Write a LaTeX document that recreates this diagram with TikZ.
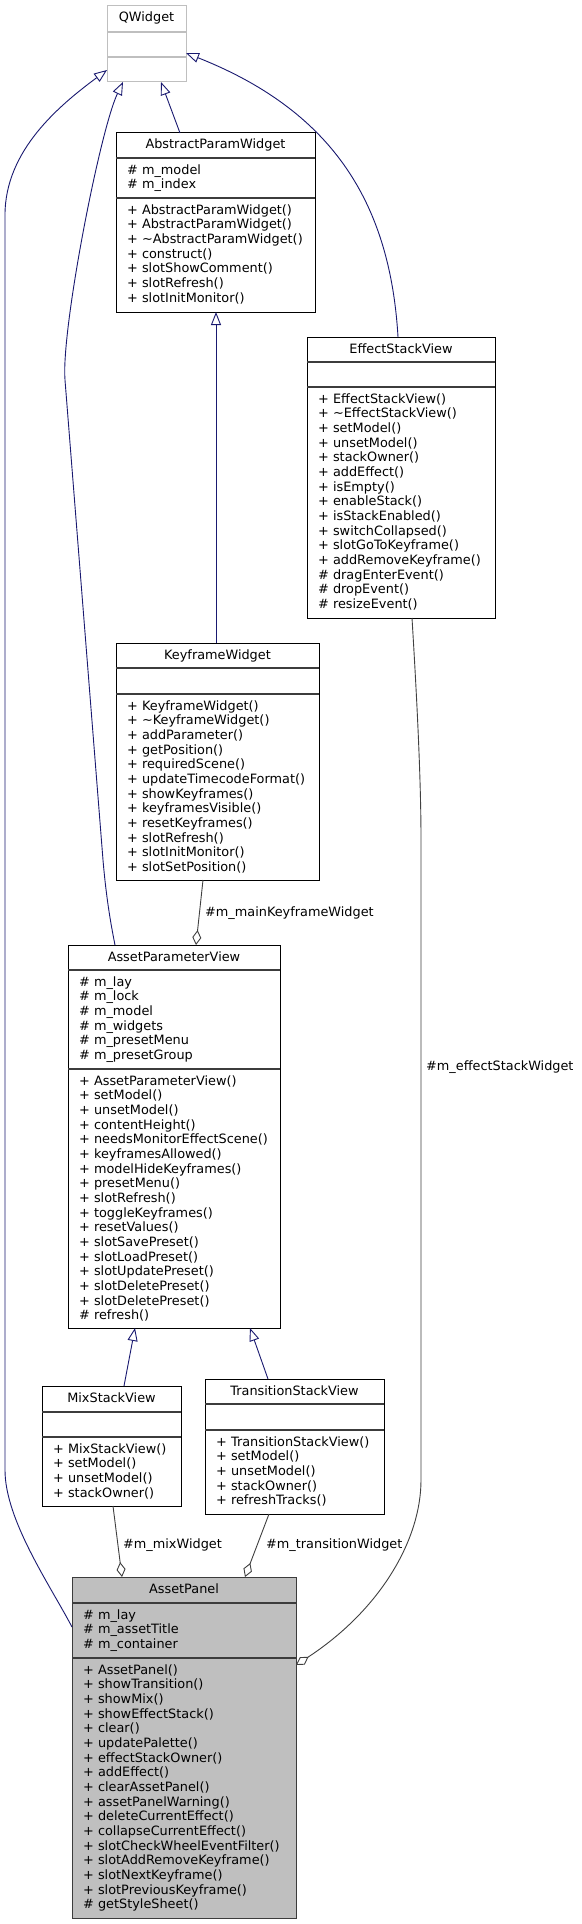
\documentclass[tikz,border=0pt]{standalone}
\usepackage{fontspec}
\setmainfont{DejaVu Sans}
\usetikzlibrary{arrows.meta,calc}
\definecolor{edgeblue}{RGB}{25,25,112}
\definecolor{edgegray}{RGB}{64,64,64}
\definecolor{nodegray}{RGB}{191,191,191}
\definecolor{divgray}{RGB}{60,60,60}
\newcommand\umlfont{\fontsize{12.85pt}{14.67pt}\selectfont}
\newcommand\mlines[1]{\begin{tabular}[t]{@{}l@{}}#1\end{tabular}}
\tikzset{
  cls/.style={draw=black, line width=1pt, fill=white, inner sep=0pt, outer sep=0pt, anchor=north west},
  clsgray/.style={cls, draw=nodegray},
  clscur/.style={cls, fill=nodegray, draw=divgray},
  div/.style={draw=divgray, line width=1.2pt},
  divlight/.style={draw=nodegray, line width=1.2pt},
  ttl/.style={anchor=base, inner sep=0pt, font=\umlfont},
  mem/.style={anchor=base west, inner sep=0pt, font=\umlfont},
  lbl/.style={anchor=base west, inner sep=0pt, font=\umlfont},
  inh/.style={draw=edgeblue, line width=0.9pt, -{Triangle[open, length=13pt, width=10pt, fill=white]}},
  agg/.style={draw=edgegray, line width=0.9pt, {Diamond[open, length=15pt, width=9pt, fill=white]}-},
}
\begin{document}
\begin{tikzpicture}[x=1pt,y=-1pt]
\useasboundingbox (0,0) rectangle (581,1924);
\fill[white] (0,0) rectangle (581,1924);

% ---------- QWidget ----------
\node[clsgray, minimum width=79pt, minimum height=76pt] (qw) at (107,6) {};
\draw[divlight] (107,32) -- (186,32);
\draw[divlight] (107,57) -- (186,57);
\node[ttl] (qw-t) at (146.5,22) {QWidget};

% ---------- AbstractParamWidget ----------
\node[cls, minimum width=199pt, minimum height=179pt] (apw) at (116,133) {};
\draw[div] (116,158) -- (315,158);
\draw[div] (116,198) -- (315,198);
\node[ttl] (apw-t) at (215.5,149) {AbstractParamWidget};
\node[mem] (apw-a) at (127,174) {\mlines{\# m\_model\\\# m\_index}};
\node[mem] (apw-m) at (127,214) {\mlines{+ AbstractParamWidget()\\+ AbstractParamWidget()\\+ \textasciitilde AbstractParamWidget()\\+ construct()\\+ slotShowComment()\\+ slotRefresh()\\+ slotInitMonitor()}};

% ---------- EffectStackView ----------
\node[cls, minimum width=188pt, minimum height=281pt] (esv) at (307,337) {};
\draw[div] (307,362) -- (495,362);
\draw[div] (307,387) -- (495,387);
\node[ttl] (esv-t) at (401,353) {EffectStackView};
\node[mem] (esv-m) at (318,403) {\mlines{+ EffectStackView()\\+ \textasciitilde EffectStackView()\\+ setModel()\\+ unsetModel()\\+ stackOwner()\\+ addEffect()\\+ isEmpty()\\+ enableStack()\\+ isStackEnabled()\\+ switchCollapsed()\\+ slotGoToKeyframe()\\+ addRemoveKeyframe()\\\# dragEnterEvent()\\\# dropEvent()\\\# resizeEvent()}};

% ---------- KeyframeWidget ----------
\node[cls, minimum width=203pt, minimum height=237pt] (kw) at (116,643) {};
\draw[div] (116,668) -- (319,668);
\draw[div] (116,694) -- (319,694);
\node[ttl] (kw-t) at (217.5,659) {KeyframeWidget};
\node[mem] (kw-m) at (127,710) {\mlines{+ KeyframeWidget()\\+ \textasciitilde KeyframeWidget()\\+ addParameter()\\+ getPosition()\\+ requiredScene()\\+ updateTimecodeFormat()\\+ showKeyframes()\\+ keyframesVisible()\\+ resetKeyframes()\\+ slotRefresh()\\+ slotInitMonitor()\\+ slotSetPosition()}};

% ---------- AssetParameterView ----------
\node[cls, minimum width=212pt, minimum height=383pt] (apv) at (68,945) {};
\draw[div] (68,970) -- (280,970);
\draw[div] (68,1069) -- (280,1069);
\node[ttl] (apv-t) at (174,961) {AssetParameterView};
\node[mem] (apv-a) at (79,986) {\mlines{\# m\_lay\\\# m\_lock\\\# m\_model\\\# m\_widgets\\\# m\_presetMenu\\\# m\_presetGroup}};
\node[mem] (apv-m) at (79,1085) {\mlines{+ AssetParameterView()\\+ setModel()\\+ unsetModel()\\+ contentHeight()\\+ needsMonitorEffectScene()\\+ keyframesAllowed()\\+ modelHideKeyframes()\\+ presetMenu()\\+ slotRefresh()\\+ toggleKeyframes()\\+ resetValues()\\+ slotSavePreset()\\+ slotLoadPreset()\\+ slotUpdatePreset()\\+ slotDeletePreset()\\+ slotDeletePreset()\\\# refresh()}};

% ---------- MixStackView ----------
\node[cls, minimum width=139pt, minimum height=120pt] (msv) at (42,1386) {};
\draw[div] (42,1412) -- (181,1412);
\draw[div] (42,1437) -- (181,1437);
\node[ttl] (msv-t) at (111.5,1402) {MixStackView};
\node[mem] (msv-m) at (53,1453) {\mlines{+ MixStackView()\\+ setModel()\\+ unsetModel()\\+ stackOwner()}};

% ---------- TransitionStackView ----------
\node[cls, minimum width=179pt, minimum height=135pt] (tsv) at (205,1379) {};
\draw[div] (205,1404) -- (384,1404);
\draw[div] (205,1430) -- (384,1430);
\node[ttl] (tsv-t) at (294.5,1395) {TransitionStackView};
\node[mem] (tsv-m) at (216,1446) {\mlines{+ TransitionStackView()\\+ setModel()\\+ unsetModel()\\+ stackOwner()\\+ refreshTracks()}};

% ---------- AssetPanel ----------
\node[clscur, minimum width=224pt, minimum height=341pt] (ap) at (72,1577) {};
\draw[div] (72,1603) -- (296,1603);
\draw[div] (72,1658) -- (296,1658);
\node[ttl] (ap-t) at (184,1593) {AssetPanel};
\node[mem] (ap-a) at (83,1619) {\mlines{\# m\_lay\\\# m\_assetTitle\\\# m\_container}};
\node[mem] (ap-m) at (83,1674) {\mlines{+ AssetPanel()\\+ showTransition()\\+ showMix()\\+ showEffectStack()\\+ clear()\\+ updatePalette()\\+ effectStackOwner()\\+ addEffect()\\+ clearAssetPanel()\\+ assetPanelWarning()\\+ deleteCurrentEffect()\\+ collapseCurrentEffect()\\+ slotCheckWheelEventFilter()\\+ slotAddRemoveKeyframe()\\+ slotNextKeyframe()\\+ slotPreviousKeyframe()\\\# getStyleSheet()}};

% ---------- inheritance ----------
\draw[inh] ([yshift=-50pt]ap.north west) .. controls (50,1585) and (5,1520) .. (5,1470) -- (5,215) .. controls (5,150) and (60,105) .. ([yshift=-64pt]qw.north west);
\draw[inh] ([xshift=47pt]apv.north west) .. controls (110,920) and (106,895) .. (103,860) -- (65,380) .. controls (61,330) and (100,130) .. ([xshift=16pt]qw.south west);
\draw[inh] ([xshift=64pt]apw.north west) -- ([xshift=54pt]qw.south west);
\draw[inh] ([xshift=91pt]esv.north west) .. controls (390,200) and (330,110) .. ([yshift=-47pt]qw.north east);
\draw[inh] ([xshift=100pt]kw.north west) -- ([xshift=100pt]apw.south west);
\draw[inh] ([xshift=82pt]msv.north west) -- ([xshift=67pt]apv.south west);
\draw[inh] ([xshift=63pt]tsv.north west) -- ([xshift=182pt]apv.south west);

% ---------- aggregation ----------
\draw[agg] ([xshift=128pt]apv.north west) -- ([xshift=87pt]kw.south west);
\draw[agg] ([xshift=50pt]ap.north west) -- ([xshift=71pt]msv.south west);
\draw[agg] ([xshift=173pt]ap.north west) -- ([xshift=64pt]tsv.south west);
\draw[agg] ([yshift=-88pt]ap.north east) .. controls (380,1610) and (421,1540) .. (421,1480) -- (421,840) .. controls (421,780) and (417,700) .. ([xshift=105pt]esv.south west);

\node[lbl] (l-kw) at (205,916) {\#m\_mainKeyframeWidget};
\node[lbl] (l-mix) at (123,1548) {\#m\_mixWidget};
\node[lbl] (l-tr) at (266,1548) {\#m\_transitionWidget};
\node[lbl] (l-esv) at (426,1070) {\#m\_effectStackWidget};
\end{tikzpicture}
\end{document}
